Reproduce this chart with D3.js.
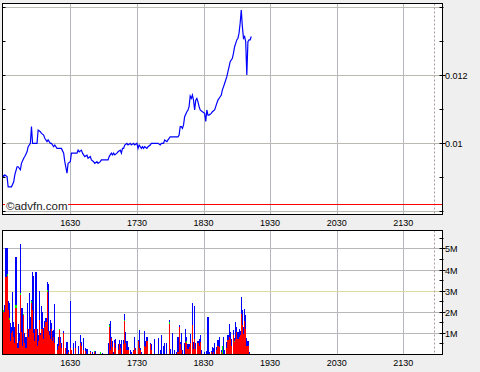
<!DOCTYPE html>
<html>
<head>
<meta charset="utf-8">
<script src="https://cdnjs.cloudflare.com/ajax/libs/d3/7.8.5/d3.min.js"></script>
<style>
  body { margin: 0; background: #efefef; }
  svg { display: block; }
  text { font-family: "Liberation Sans", Arial, sans-serif; font-size: 9px; fill: #000; }
  .bar { shape-rendering: crispEdges; }
</style>
</head>
<body>
<svg id="chart"></svg>
<script>
// times are minutes after 15:00
const priceMinutes = [29,30,31,33,34,37,39,40,42,43,45,46,48,49,51,52,54,55,56,60,
  61,63,64,66,67,69,70,72,73,75,76,78,82,84,85,87,88,90,91,93,
  96,97,98,100,101,103,105,106,108,109,111,112,114,115,117,118,124,125,127,128,
  129,130,132,133,135,136,137,138,139,141,142,144,145,147,148,150,151,152,154,155,
  156,157,159,160,162,163,169,171,172,174,175,177,178,180,187,188,189,190,191,192,
  193,195,196,197,198,199,200,201,202,203,204,205,206,207,209,211,212,213,214,215,
  217,218,220,221,222,223,225,226,227,228,229,231,232,233,234,236,237,238,239,240,
  241,242,243,244,245,246,247,248,249,250,251,252,253];
const prices = [0.00907,0.00902,0.00907,0.00902,0.00872,0.00872,0.00887,0.00907,0.00931,0.00931,
  0.00922,0.00941,0.00956,0.00961,0.00975,0.0099,0.01,0.01049,0.01,0.01,
  0.01039,0.01034,0.01029,0.01024,0.01015,0.01005,0.0101,0.01,0.01,0.0099,
  0.00995,0.00985,0.00985,0.00971,0.00946,0.00912,0.00941,0.00946,0.00971,0.00971,
  0.00971,0.0098,0.00975,0.0098,0.00971,0.00961,0.00965,0.00956,0.00961,0.00951,
  0.00946,0.00941,0.00946,0.00941,0.00946,0.00951,0.00951,0.00961,0.00971,0.00966,
  0.00971,0.00966,0.00971,0.00975,0.0098,0.00971,0.00985,0.00985,0.00995,0.01,
  0.00995,0.01,0.00995,0.01,0.00995,0.01,0.00985,0.00995,0.00985,0.0099,
  0.00985,0.0099,0.00985,0.0099,0.00995,0.01,0.01,0.00995,0.01,0.01,
  0.0101,0.01005,0.0101,0.01019,0.01019,0.01024,0.01049,0.01049,0.01044,0.01054,
  0.01078,0.01093,0.01098,0.01108,0.01139,0.01132,0.01142,0.01127,0.01098,0.01127,
  0.01132,0.01122,0.01108,0.01098,0.01093,0.01088,0.01064,0.01098,0.01083,0.01083,
  0.01088,0.01093,0.01098,0.01108,0.01118,0.01127,0.01137,0.01142,0.01157,0.01166,
  0.01176,0.01196,0.01211,0.01225,0.0124,0.0125,0.01265,0.01284,0.01294,0.01304,
  0.01309,0.01324,0.01353,0.01392,0.01343,0.01309,0.01314,0.01299,0.01201,0.01299,
  0.01304,0.01304,0.01314];

// volume per minute, millions (total bar, red part at the bottom)
const volMinutes = [29,30,31,32,33,34,35,36,37,38,39,40,41,42,43,44,45,46,47,48,
  49,50,51,52,53,54,55,56,57,58,59,60,61,62,63,64,65,66,67,68,
  69,70,71,72,73,74,75,76,78,79,80,81,82,84,86,87,88,90,91,93,
  95,97,99,100,102,104,105,108,110,112,113,117,119,124,125,126,127,128,129,130,
  131,133,134,135,136,138,139,140,141,142,144,145,147,148,149,151,152,153,154,157,
  158,159,162,163,166,169,171,172,174,175,177,179,180,182,184,186,187,188,189,190,
  191,193,194,195,196,197,198,200,201,202,203,205,206,207,208,211,213,214,215,217,
  218,219,220,222,223,224,226,227,228,229,231,232,233,234,235,237,238,239,240,241,
  242,243,244,245,246,247,248,249,250,251];
const volTotal = [5.4,2.1,2.3,5.0,5.0,2.5,2.4,1.45,1.3,2.95,1.5,1.3,4.6,0.5,1.4,1.0,5.2,2.2,2.2,1.9,
  1.0,0.8,2.4,1.2,2.9,1.75,2.55,3.9,3.7,1.2,3.9,1.2,0.9,3.0,1.0,2.25,2.0,1.25,1.55,1.7,
  3.4,3.3,1.1,1.6,1.45,1.1,1.15,2.35,0.45,0.8,1.2,0.8,0.5,1.1,0.3,0.55,0.2,2.5,0.2,0.5,
  0.6,0.4,0.9,0.55,0.75,0.3,0.25,0.15,0.1,0.15,0.15,0.1,0.05,0.5,1.4,1.55,0.8,0.6,0.1,0.65,
  0.7,0.45,0.65,0.45,0.65,0.65,1.9,1.05,0.6,0.35,0.2,0.1,0.2,0.8,0.3,0.65,1.15,0.3,0.1,1.1,
  0.6,0.8,0.5,0.45,0.7,0.75,0.2,0.9,0.4,0.5,0.5,1.6,0.25,1.0,0.2,0.1,0.8,1.35,0.55,1.0,
  0.2,0.5,1.2,0.8,0.45,0.45,0.95,2.4,0.55,2.25,0.5,0.6,0.7,0.9,0.2,0.1,0.15,1.75,0.1,0.15,
  0.35,0.3,0.5,0.35,0.65,0.8,0.2,0.4,0.8,0.2,0.55,0.9,1.4,1.05,0.7,1.15,0.75,1.5,1.3,1.05,
  1.2,1.1,2.7,2.1,1.3,2.15,1.85,0.75,0.6,0.1];
const volRed = [2.1,2.0,2.0,3.65,3.7,2.1,1.6,0.6,1.0,1.1,0.8,0.5,2.2,0.3,0.3,0.6,2.8,1.05,0.4,1.85,
  0.5,0.3,1.2,0.8,1.2,1.2,2.4,2.1,1.0,0.6,1.2,0.4,0.6,1.6,0.9,1.2,1.2,0.7,1.3,1.5,
  2.95,1.1,0.9,0.7,1.2,0.6,0.8,0.5,0.2,0.4,1.15,0.5,0.3,1.0,0.3,0,0.1,0.3,0.2,0,
  0.3,0,0.5,0.4,0.2,0.15,0,0.1,0,0.1,0,0,0,0,1.3,0.2,0.75,0.35,0,0.5,
  0.3,0.2,0.45,0.3,0,0.45,1.55,0.5,0.2,0.2,0,0,0.15,0.3,0.2,0.6,0.3,0.2,0,0.4,
  0.35,0.6,0.45,0.2,0,0,0,0,0,0,0,1.4,0,0,0,0,0.1,1.3,0.45,0.2,
  0,0,0.55,0.5,0.25,0.35,0.5,1.35,0.25,0.7,0.25,0.5,0.4,0.55,0,0,0,0,0,0.1,
  0,0.1,0,0.2,0.4,0.35,0.1,0,0,0,0.3,0.65,0.8,0.7,0.4,0.9,0.55,0.7,1.05,0.7,
  0.8,0.9,1.9,1.35,0.95,1.55,1.2,0.4,0.4,0];
// small green slices sitting on top of the red
const greenMinutes = [30,33,35,41,45,48,55,69,80,112,117,125,139,179,195,227,238];
const greenVol = [0.1,0.1,0.1,0.1,0.1,0.05,0.1,0.1,0.05,0.05,0.1,0.05,0.05,0.1,0.1,0.4,0.05];

const timeTicks = [90,150,210,270,330,390];
const timeLabels = ["1630","1730","1830","1930","2030","2130"];
const priceGrid = [0.008,0.01,0.012,0.014];
const priceMinor = [0.009,0.011,0.013];
const priceLabelValues = [0.01,0.012];
const priceLabels = ["0.01","0.012"];
const volGrid = [1,2,3,4,5];
const volLabels = ["1M","2M","3M","4M","5M"];
const volMinor = [0.5,1.5,2.5,3.5,4.5,5.5];
const prevClose = 0.00822;
const closeMinute = 418;

const width = 480, height = 372;
const left = 2.5, right = 442.5;
const top1 = 3.5, bot1 = 214.5;
const top2 = 230.5, bot2 = 354.5;

const svg = d3.select('#chart').attr('width', width).attr('height', height);

const x = d3.scaleLinear().domain([28.9, 425.3]).range([left, right]);
const yP = d3.scaleLinear().domain([0.007921, 0.014126]).range([214, 3]);
const yV = d3.scaleLinear().domain([0, 5.87]).range([354, 230]);
const px = v => Math.round(v) + 0.5;

function panel(top, bot) {
  const g = svg.append('g');
  g.append('rect').attr('x', left).attr('y', top).attr('width', right - left).attr('height', bot - top)
    .attr('fill', '#fff');
  g.selectAll('.vg').data(timeTicks).enter().append('line')
    .attr('x1', d => px(x(d))).attr('x2', d => px(x(d)))
    .attr('y1', top).attr('y2', bot)
    .attr('stroke', '#b4b8bc');
  return g;
}

// ---- price panel
const gp = panel(top1, bot1);
gp.selectAll('.hg').data(priceGrid).enter().append('line')
  .attr('x1', left).attr('x2', right)
  .attr('y1', d => px(yP(d))).attr('y2', d => px(yP(d)))
  .attr('stroke', '#bcbab2');
gp.append('line').attr('x1', px(x(closeMinute))).attr('x2', px(x(closeMinute)))
  .attr('y1', top1).attr('y2', bot1).attr('stroke', '#b09a9a').attr('stroke-dasharray', '2,2');
gp.append('line').attr('x1', left).attr('x2', right)
  .attr('y1', px(yP(prevClose))).attr('y2', px(yP(prevClose)))
  .attr('stroke', '#ff0000');

const line = d3.line().x((d, i) => x(priceMinutes[i])).y(d => yP(d));
gp.append('path').datum(prices).attr('d', line)
  .attr('fill', 'none').attr('stroke', '#0000ff').attr('stroke-width', 1.2);

gp.append('rect').attr('x', 5).attr('y', 200).attr('width', 63).attr('height', 11).attr('fill', '#fff');
gp.append('text').attr('x', 6).attr('y', 210).style('font-size', '11.5px').style('fill', '#222')
  .text('©advfn.com');

gp.append('rect').attr('x', left).attr('y', top1).attr('width', right - left).attr('height', bot1 - top1)
  .attr('fill', 'none').attr('stroke', '#000');

// ticks on the price axis
priceGrid.concat(priceMinor).forEach(v => {
  const yy = px(yP(v));
  if (yy < top1 || yy > bot1) return;
  gp.append('line').attr('x1', left).attr('x2', left + 3).attr('y1', yy).attr('y2', yy).attr('stroke', '#000');
  gp.append('line').attr('x1', right - 3).attr('x2', right + 1).attr('y1', yy).attr('y2', yy).attr('stroke', '#000');
});
priceLabelValues.forEach((v, i) => {
  const yy = px(yP(v));
  gp.append('line').attr('x1', right).attr('x2', right + 3).attr('y1', yy).attr('y2', yy).attr('stroke', '#000');
  gp.append('text').attr('x', 445).attr('y', yy + 3.5).text(priceLabels[i]);
});
gp.selectAll('.tl').data(timeTicks).enter().append('text')
  .attr('x', d => x(d)).attr('y', 226).attr('text-anchor', 'middle')
  .text((d, i) => timeLabels[i]);

// ---- volume panel
const gv = panel(top2, bot2);
gv.selectAll('.hg').data(volGrid).enter().append('line')
  .attr('x1', left).attr('x2', right)
  .attr('y1', d => px(yV(d))).attr('y2', d => px(yV(d)))
  .attr('stroke', d => d === 3 ? '#dcdca0' : '#b8b8b8');
gv.append('line').attr('x1', px(x(closeMinute))).attr('x2', px(x(closeMinute)))
  .attr('y1', top2).attr('y2', bot2).attr('stroke', '#b09a9a').attr('stroke-dasharray', '2,2');

const greenAt = {};
greenMinutes.forEach((m, i) => greenAt[m] = greenVol[i]);

const bars = volMinutes.map((m, i) => ({m: m, total: volTotal[i], red: volRed[i], green: greenAt[m] || 0}));
console.log(bars.length, volTotal.length, volRed.length);

// each bar fills its minute slot, so 1 or 2 px wide
const bx = d => Math.floor(x(d.m));
const bw = d => Math.max(1, Math.floor(x(d.m + 1)) - Math.floor(x(d.m)));
gv.selectAll('.vb').data(bars).enter().append('rect').attr('class', 'bar')
  .attr('x', bx).attr('width', bw)
  .attr('y', d => yV(d.total)).attr('height', d => yV(0) - yV(d.total))
  .attr('fill', '#0000ff');
gv.selectAll('.vr').data(bars.filter(d => d.red > 0)).enter().append('rect').attr('class', 'bar')
  .attr('x', bx).attr('width', bw)
  .attr('y', d => yV(d.red)).attr('height', d => yV(0) - yV(d.red))
  .attr('fill', '#ff0000');
gv.selectAll('.vgr').data(bars.filter(d => d.green > 0)).enter().append('rect').attr('class', 'bar')
  .attr('x', bx).attr('width', bw)
  .attr('y', d => yV(d.red + d.green)).attr('height', d => yV(d.red) - yV(d.red + d.green))
  .attr('fill', '#00ee00');

gv.append('rect').attr('x', left).attr('y', top2).attr('width', right - left).attr('height', bot2 - top2)
  .attr('fill', 'none').attr('stroke', '#000');

volMinor.forEach(v => {
  const yy = px(yV(v));
  gv.append('line').attr('x1', right - 3).attr('x2', right + 1).attr('y1', yy).attr('y2', yy).attr('stroke', '#000');
});
volGrid.forEach((v, i) => {
  const yy = px(yV(v));
  gv.append('line').attr('x1', right - 3).attr('x2', right + 3).attr('y1', yy).attr('y2', yy).attr('stroke', '#000');
  gv.append('text').attr('x', 445).attr('y', yy + 3.5).text(volLabels[i]);
});
gv.selectAll('.tl').data(timeTicks).enter().append('text')
  .attr('x', d => x(d)).attr('y', 366).attr('text-anchor', 'middle')
  .text((d, i) => timeLabels[i]);
</script>
</body>
</html>
